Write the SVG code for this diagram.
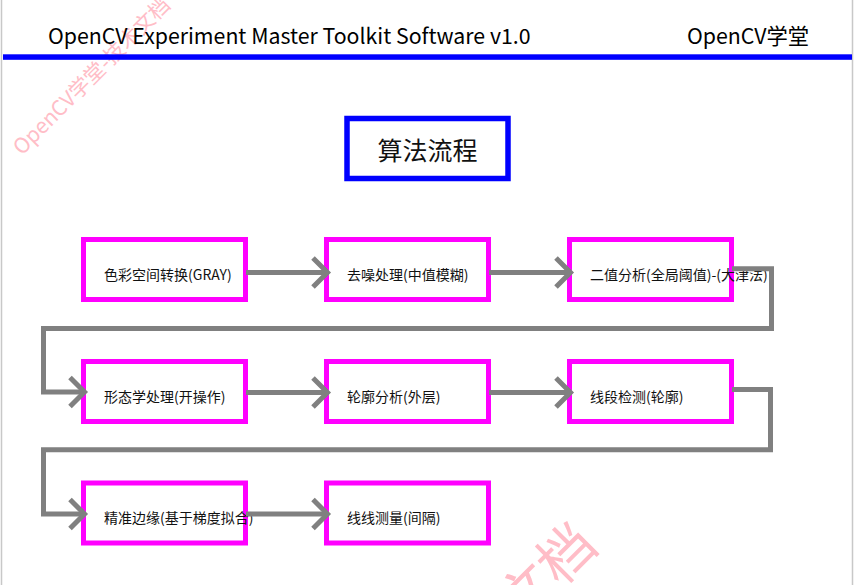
<svg xmlns="http://www.w3.org/2000/svg" width="854" height="585" viewBox="0 0 854 585">
<style>
.wm{font-family:"Noto Sans CJK SC","Noto Sans",sans-serif;fill:#ffb6c1;opacity:0.9}
.hdr{font-family:"Noto Sans CJK SC","Noto Sans",sans-serif;font-size:21.3px;fill:#000}
.node rect{fill:#fff;stroke:#ff00ff;stroke-width:5}
.node text{font-family:"Noto Sans CJK SC","Noto Sans",sans-serif;font-size:14px;fill:#111}
.conn path,.conn polyline{fill:none;stroke:#808080;stroke-width:5;stroke-linejoin:miter}
</style>
<rect x="0" y="0" width="854" height="585" fill="#fff"/>
<line x1="1.5" y1="0" x2="1.5" y2="585" stroke="#c8c8c8" stroke-width="1.5"/>
<line x1="852.5" y1="0" x2="852.5" y2="585" stroke="#c8c8c8" stroke-width="1.5"/>
<g id="watermark">
<text class="wm" font-size="21" transform="translate(22,156) rotate(-45)">OpenCV学堂-技术文档</text>
<text class="wm" font-size="56" text-anchor="end" transform="translate(600,548) rotate(-45)">OpenCV学堂-技术文档</text>
</g>
<g id="header">
<text class="hdr" x="48" y="43.5">OpenCV Experiment Master Toolkit Software v1.0</text>
<text class="hdr" x="687" y="43.5">OpenCV学堂</text>
<rect x="3" y="54.3" width="849" height="5.5" fill="#0000ff"/>
</g>
<g id="title">
<rect x="347" y="118.5" width="161" height="60" fill="#fff" stroke="#0000ff" stroke-width="5.5"/>
<text x="427.5" y="159.5" text-anchor="middle" font-family="Noto Sans CJK SC, sans-serif" font-size="25" fill="#111">算法流程</text>
</g>
<g id="n1" class="node"><rect x="83.5" y="239.5" width="162" height="60"/><text x="104" y="280">色彩空间转换(GRAY)</text></g>
<g id="n2" class="node"><rect x="326.5" y="239.5" width="162" height="60"/><text x="347" y="280">去噪处理(中值模糊)</text></g>
<g id="n3" class="node"><rect x="569.5" y="239.5" width="162" height="60"/><text x="590" y="280">二值分析(全局阈值)-(大津法)</text></g>
<g id="n4" class="node"><rect x="83.5" y="361.5" width="162" height="60"/><text x="104" y="402">形态学处理(开操作)</text></g>
<g id="n5" class="node"><rect x="326.5" y="361.5" width="162" height="60"/><text x="347" y="402">轮廓分析(外层)</text></g>
<g id="n6" class="node"><rect x="569.5" y="361.5" width="162" height="60"/><text x="590" y="402">线段检测(轮廓)</text></g>
<g id="n7" class="node"><rect x="83.5" y="483" width="162" height="60"/><text x="104" y="523">精准边缘(基于梯度拟合)</text></g>
<g id="n8" class="node"><rect x="326.5" y="483" width="162" height="60"/><text x="347" y="523">线线测量(间隔)</text></g>
<g id="connectors" class="conn">
<path d="M246,272.5 H327"/><polyline points="313,258 327.5,272.5 313,287"/>
<path d="M489,272.5 H570"/><polyline points="556,258 570.5,272.5 556,287"/>
<path d="M732,268.7 H771.5 V328.5 H43.5 V392 H84"/><polyline points="70,377.5 84.5,392 70,406.5"/>
<path d="M246,392.5 H327"/><polyline points="313,378 327.5,392.5 313,407"/>
<path d="M489,392.5 H570"/><polyline points="556,378 570.5,392.5 556,407"/>
<path d="M732,389.5 H770.5 V449.8 H43.5 V514 H84"/><polyline points="70,499.5 84.5,514 70,528.5"/>
<path d="M246,514 H327"/><polyline points="313,499.5 327.5,514 313,528.5"/>
</g>
</svg>
